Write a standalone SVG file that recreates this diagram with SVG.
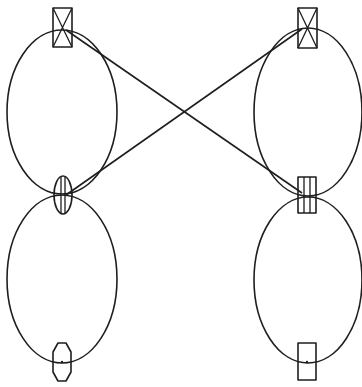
<svg xmlns="http://www.w3.org/2000/svg" width="362" height="387" viewBox="0 0 362 387">
<style>
.s{fill:none;stroke:#1e1e1e;stroke-width:1.6;stroke-linejoin:round}
.t{fill:none;stroke:#1e1e1e;stroke-width:1.3}
</style>
<rect width="362" height="387" fill="#fff"/>
<g id="loop-left-top"><ellipse class="s" cx="62" cy="112" rx="55" ry="82"/></g>
<g id="loop-left-bottom"><ellipse class="s" cx="62" cy="279" rx="55" ry="84"/></g>
<g id="loop-right-top"><ellipse class="s" cx="308" cy="112" rx="54" ry="84"/></g>
<g id="loop-right-bottom"><ellipse class="s" cx="308" cy="280" rx="54" ry="83"/></g>
<g id="connectors">
<line class="s" x1="66" y1="30" x2="302" y2="193"/>
<line class="s" x1="66" y1="195" x2="302" y2="29"/>
</g>
<g id="box-left-top">
<rect class="s" x="53" y="8" width="19" height="39"/>
<path class="t" d="M53 8 L72 47 M72 8 L53 47"/>
</g>
<g id="box-right-top">
<rect class="s" x="298" y="8" width="19" height="40"/>
<path class="t" d="M298 8 L317 48 M317 8 L298 48"/>
</g>
<g id="lens-left-mid">
<ellipse class="s" cx="63" cy="195" rx="9" ry="19"/>
<path class="t" d="M61 177 L61 213 M65 177 L65 213"/>
</g>
<g id="box-right-mid">
<rect class="s" x="298" y="177" width="18" height="36"/>
<path class="t" d="M304 177 L304 213 M310 177 L310 213"/>
</g>
<g id="oct-left-bottom">
<polygon class="s" points="58,343 66,343 71,352 71,372 66,381 58,381 53,372 53,352"/>
<circle cx="62" cy="362" r="1.2" fill="#1e1e1e"/>
</g>
<g id="box-right-bottom">
<rect class="s" x="298" y="343" width="18" height="37"/>
<circle cx="307" cy="362" r="1.2" fill="#1e1e1e"/>
</g>
</svg>
